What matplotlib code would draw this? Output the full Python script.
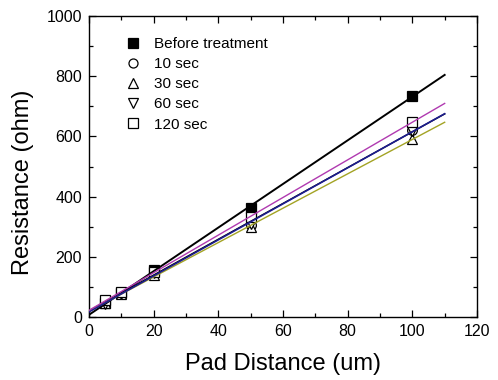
import numpy as np
import matplotlib
matplotlib.use("Agg")
import matplotlib.pyplot as plt
from matplotlib.ticker import MultipleLocator

plt.rcParams['font.family'] = ['Liberation Sans', 'DejaVu Sans']

# pad distance (um)
distance = [5, 10, 20, 50, 100]

# resistance (ohm) per treatment time
before = [45, 80, 155, 362, 735]
sec10 = [50, 80, 148, 305, 620]
sec30 = [45, 78, 138, 298, 592]
sec60 = [42, 78, 145, 310, 617]
sec120 = [55, 82, 150, 332, 648]

labels = ['Before treatment', '10 sec', '30 sec', '60 sec', '120 sec']
fit_x = [0, 110]

series = [before, sec10, sec30, sec60, sec120]
markers = ['s', 'o', '^', 'v', 's']
line_colors = ['black', 'black', '#a3a324', '#1c1c8e', '#b03ab0']
line_widths = [1.4, 1.0, 1.0, 1.2, 1.0]
marker_sizes = [7, 7, 7.5, 7.5, 6.5]

fig = plt.figure(figsize=(4.98, 3.8), dpi=100)
ax = fig.add_axes([89 / 498, 63 / 380, 388 / 498, 301 / 380])

handles = []
for i, (ys, m, lc, lw, ms, lab) in enumerate(zip(series, markers, line_colors,
                                                  line_widths, marker_sizes, labels)):
    k, b = np.polyfit(distance, ys, 1)
    xx = np.array(fit_x)
    ax.plot(xx, k * xx + b, color=lc, lw=lw, zorder=4)
    face = 'black' if i == 0 else 'white'
    h, = ax.plot(distance, ys, linestyle='none', marker=m,
                 markersize=ms, markeredgewidth=0.9, color='black',
                 markerfacecolor=face, label=lab, zorder=2 + i * 0.1)
    handles.append(h)

ax.set_xlim(0, 120)
ax.set_ylim(0, 1000)
ax.xaxis.set_major_locator(MultipleLocator(20))
ax.xaxis.set_minor_locator(MultipleLocator(10))
ax.yaxis.set_major_locator(MultipleLocator(200))
ax.yaxis.set_minor_locator(MultipleLocator(100))
ax.tick_params(which='both', direction='in', top=True, right=True, width=0.9)
ax.tick_params(which='major', length=5, labelsize=11.5, pad=5)
ax.tick_params(which='minor', length=3)
for s in ax.spines.values():
    s.set_linewidth(1.0)

ax.set_xlabel('Pad Distance (um)', fontsize=17, labelpad=10)
ax.set_ylabel('Resistance (ohm)', fontsize=17)
ax.yaxis.set_label_coords(-0.143, 0.447)

leg = ax.legend(handles=handles, loc='upper left', bbox_to_anchor=(0.094, 0.93),
                frameon=False, fontsize=11, handlelength=1.0, handletextpad=0.9,
                labelspacing=0.4, borderpad=0, borderaxespad=0)
for h in leg.legend_handles:
    h.set_markersize(6.5)

fig.savefig('out.png', dpi=100)
